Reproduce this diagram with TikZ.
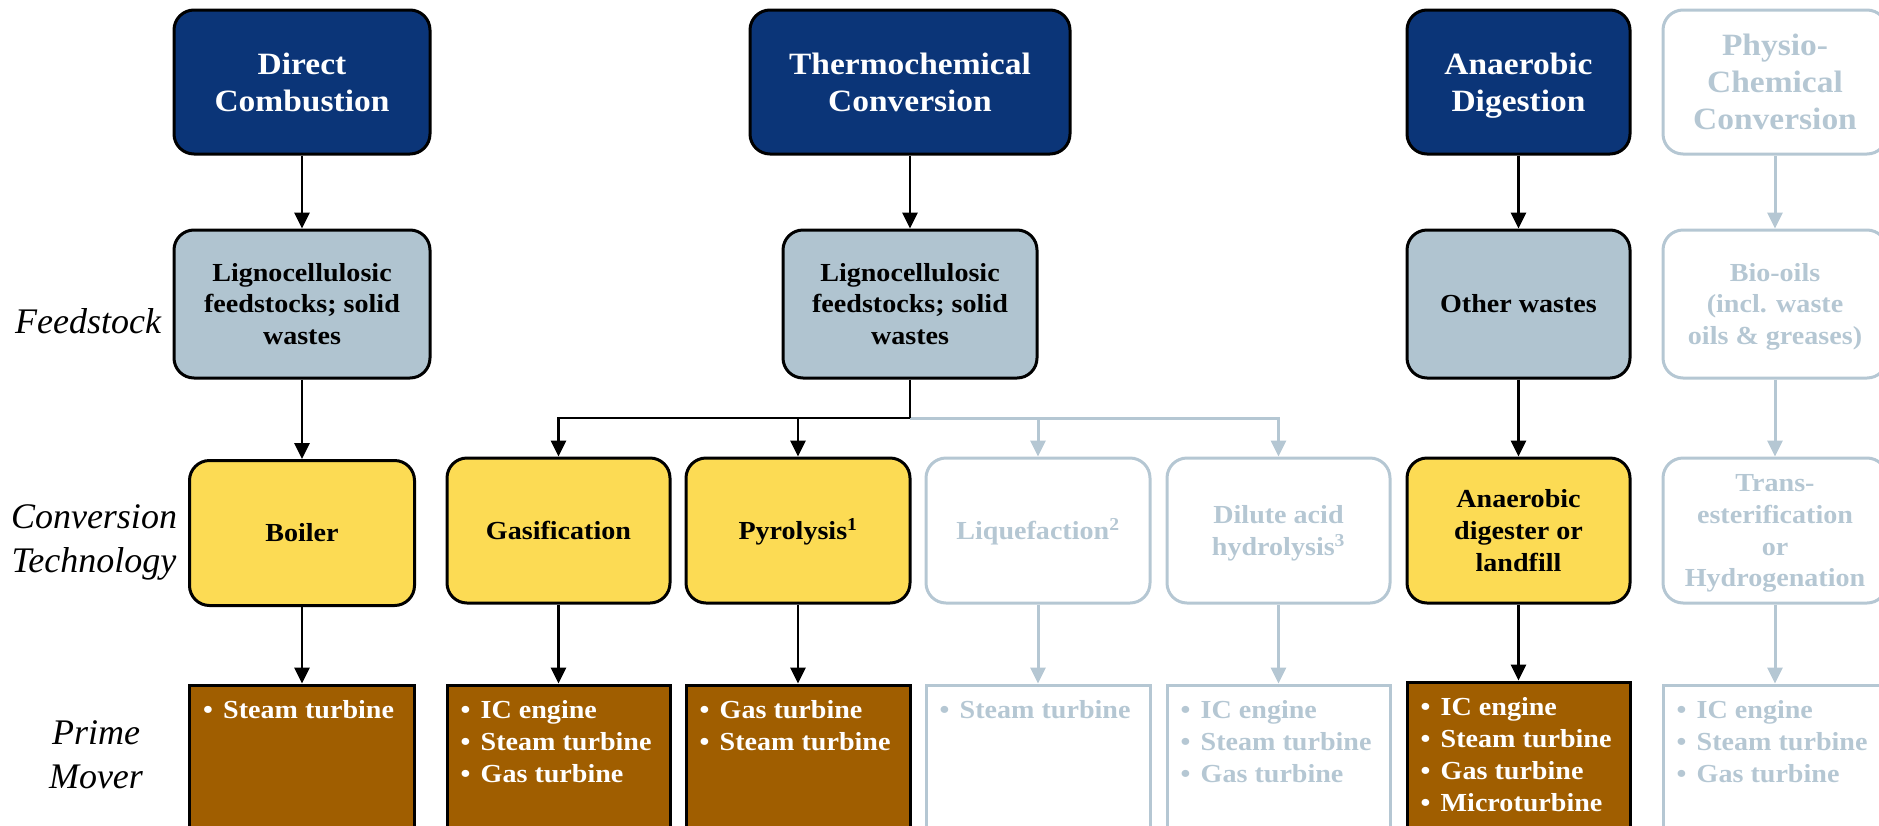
\documentclass[tikz,border=0pt]{standalone}
\usepackage{fontspec}
\setmainfont{Liberation Serif}[FakeStretch=1.08]
\newfontfamily\labfont{Liberation Serif}
\usetikzlibrary{arrows.meta}
\definecolor{navy}{HTML}{0B3578}
\definecolor{feed}{HTML}{B0C4D0}
\definecolor{yel}{HTML}{FCDB54}
\definecolor{brn}{HTML}{A05E00}
\definecolor{ghostc}{HTML}{B5C7D3}
\newcommand{\bul}{\makebox[20pt][l]{\textbullet}}
\newcommand{\fst}{\rule{0pt}{19pt}}
\newcommand{\tline}{\rule{0pt}{0.9em}}
\newcommand{\bline}{\rule[-0.22em]{0pt}{0.22em}}
\tikzset{
  wh/.style 2 args={minimum width=#1pt, minimum height=#2pt},
  base/.style={rectangle, rounded corners=20pt, inner sep=0pt, align=center,
    font=\bfseries\fontsize{26}{31.7}\selectfont, line width=3pt},
  topbox/.style={base, draw=black, fill=navy, text=white, font=\bfseries\fontsize{31}{37}\selectfont},
  topghost/.style={base, draw=ghostc, text=ghostc, font=\bfseries\fontsize{31}{37}\selectfont},
  fsbox/.style={base, draw=black, fill=feed},
  ctbox/.style={base, draw=black, fill=yel},
  ghost/.style={base, draw=ghostc, text=ghostc},
  pmbox/.style={rectangle, inner sep=0pt, draw=black, fill=brn, line width=3pt},
  pmghost/.style={rectangle, inner sep=0pt, draw=ghostc, line width=3pt},
  pmtext/.style={anchor=north west, align=left, inner sep=0pt,
    font=\bfseries\fontsize{26}{32}\selectfont, text=white},
  pmgtext/.style={pmtext, text=ghostc},
  lab/.style={anchor=north, align=center, inner sep=0pt, font=\labfont\itshape\fontsize{36}{44}\selectfont},
  arr/.style={line width=2.8pt, draw=black, -{Triangle[length=16pt,width=15pt]}},
  garr/.style={line width=3pt, draw=ghostc, -{Triangle[length=16pt,width=15pt]}},
  blk/.style={line width=2.8pt, draw=black},
}
\begin{document}
\begin{tikzpicture}[x=1pt,y=-1pt]
\useasboundingbox (0,0) rectangle (1879,825);
\clip (0,0) rectangle (1879,825);
% top row
\node[topbox, wh={256}{144}] (dc) at (302,82) {\tline Direct\\Combustion\bline};
\node[topbox, wh={320}{144}] (tc) at (910,82) {\tline Thermochemical\\Conversion\bline};
\node[topbox, wh={223}{144}] (ad) at (1518.5,82) {\tline Anaerobic\\Digestion\bline};
\node[topghost, wh={224}{144}] (pc) at (1775,82) {\tline Physio-\\Chemical\\Conversion\bline};
% feedstock row
\node[fsbox, wh={256}{148}] (fs1) at (302,304) {\tline Lignocellulosic\\feedstocks; solid\\wastes\bline};
\node[fsbox, wh={254}{148}] (fs2) at (910,304) {\tline Lignocellulosic\\feedstocks; solid\\wastes\bline};
\node[fsbox, wh={223}{148}] (fs3) at (1518.5,304) {\tline Other wastes\bline};
\node[ghost, wh={224}{148}] (fs4) at (1775,304) {\tline Bio-oils\\(incl. waste\\oils \& greases)\bline};
% conversion row
\node[ctbox, wh={225}{145}] (boil) at (302,533) {\tline Boiler\bline};
\node[ctbox, wh={223}{145}] (gas) at (558.5,530.5) {\tline Gasification\bline};
\node[ctbox, wh={224}{145}] (pyr) at (798,530.5) {\tline Pyrolysis\textsuperscript{1}\bline};
\node[ghost, wh={224}{145}] (liq) at (1038,530.5) {\tline Liquefaction\textsuperscript{2}\bline};
\node[ghost, wh={223}{145}] (dil) at (1278.5,530.5) {\tline Dilute acid\\hydrolysis\textsuperscript{3}\bline};
\node[ctbox, wh={223}{145}] (adl) at (1518.5,530.5) {\tline Anaerobic\\digester or\\landfill\bline};
\node[ghost, wh={224}{145}] (tr) at (1775,530.5) {\tline Trans-\\esterification\\or\\Hydrogenation\bline};
% prime mover row
\node[pmbox, wh={225}{215}] (pm1) at (302,792.5) {};
\node[pmbox, wh={223}{215}] (pm2) at (558.5,792.5) {};
\node[pmbox, wh={224}{215}] (pm3) at (798,792.5) {};
\node[pmghost, wh={224}{215}] (pm4) at (1038,792.5) {};
\node[pmghost, wh={223}{215}] (pm5) at (1278.5,792.5) {};
\node[pmbox, wh={223}{218}] (pm6) at (1518.5,791) {};
\node[pmghost, wh={224}{215}] (pm7) at (1775,792.5) {};
\node[pmtext] (t1) at ([xshift=15pt,yshift=-16pt]pm1.north west) {\fst\bul Steam turbine};
\node[pmtext] (t2) at ([xshift=15pt,yshift=-16pt]pm2.north west) {\fst\bul IC engine\\\bul Steam turbine\\\bul Gas turbine};
\node[pmtext] (t3) at ([xshift=15pt,yshift=-16pt]pm3.north west) {\fst\bul Gas turbine\\\bul Steam turbine};
\node[pmgtext] (t4) at ([xshift=15pt,yshift=-16pt]pm4.north west) {\fst\bul Steam turbine};
\node[pmgtext] (t5) at ([xshift=15pt,yshift=-16pt]pm5.north west) {\fst\bul IC engine\\\bul Steam turbine\\\bul Gas turbine};
\node[pmtext] (t6) at ([xshift=15pt,yshift=-16pt]pm6.north west) {\fst\bul IC engine\\\bul Steam turbine\\\bul Gas turbine\\\bul Microturbine};
\node[pmgtext] (t7) at ([xshift=15pt,yshift=-16pt]pm7.north west) {\fst\bul IC engine\\\bul Steam turbine\\\bul Gas turbine};
% row labels
\node[lab] (l1) at (88,303) {\rule{0pt}{30pt}Feedstock};
\node[lab] (l2) at (94,498) {\rule{0pt}{30pt}Conversion\\Technology};
\node[lab] (l3) at (96,714) {\rule{0pt}{30pt}Prime\\Mover};
% connectors
\draw[arr] (dc) -- (fs1);
\draw[arr] (fs1) -- (boil);
\draw[arr] (boil) -- (pm1);
\draw[arr] (tc) -- (fs2);
\coordinate (br) at (910,418);
\draw[garr] (br) -| (dil.north);
\draw[garr] (liq.north |- br) -- (liq.north);
\draw[blk] (fs2.south) -- (br);
\draw[arr] (br) -| (gas.north);
\draw[arr] (pyr.north |- br) -- (pyr.north);
\draw[arr] (gas) -- (pm2);
\draw[arr] (pyr) -- (pm3);
\draw[garr] (liq) -- (pm4);
\draw[garr] (dil) -- (pm5);
\draw[arr] (ad) -- (fs3);
\draw[arr] (fs3) -- (adl);
\draw[arr] (adl) -- (pm6);
\draw[garr] (pc) -- (fs4);
\draw[garr] (fs4) -- (tr);
\draw[garr] (tr) -- (pm7);
\end{tikzpicture}
\end{document}
